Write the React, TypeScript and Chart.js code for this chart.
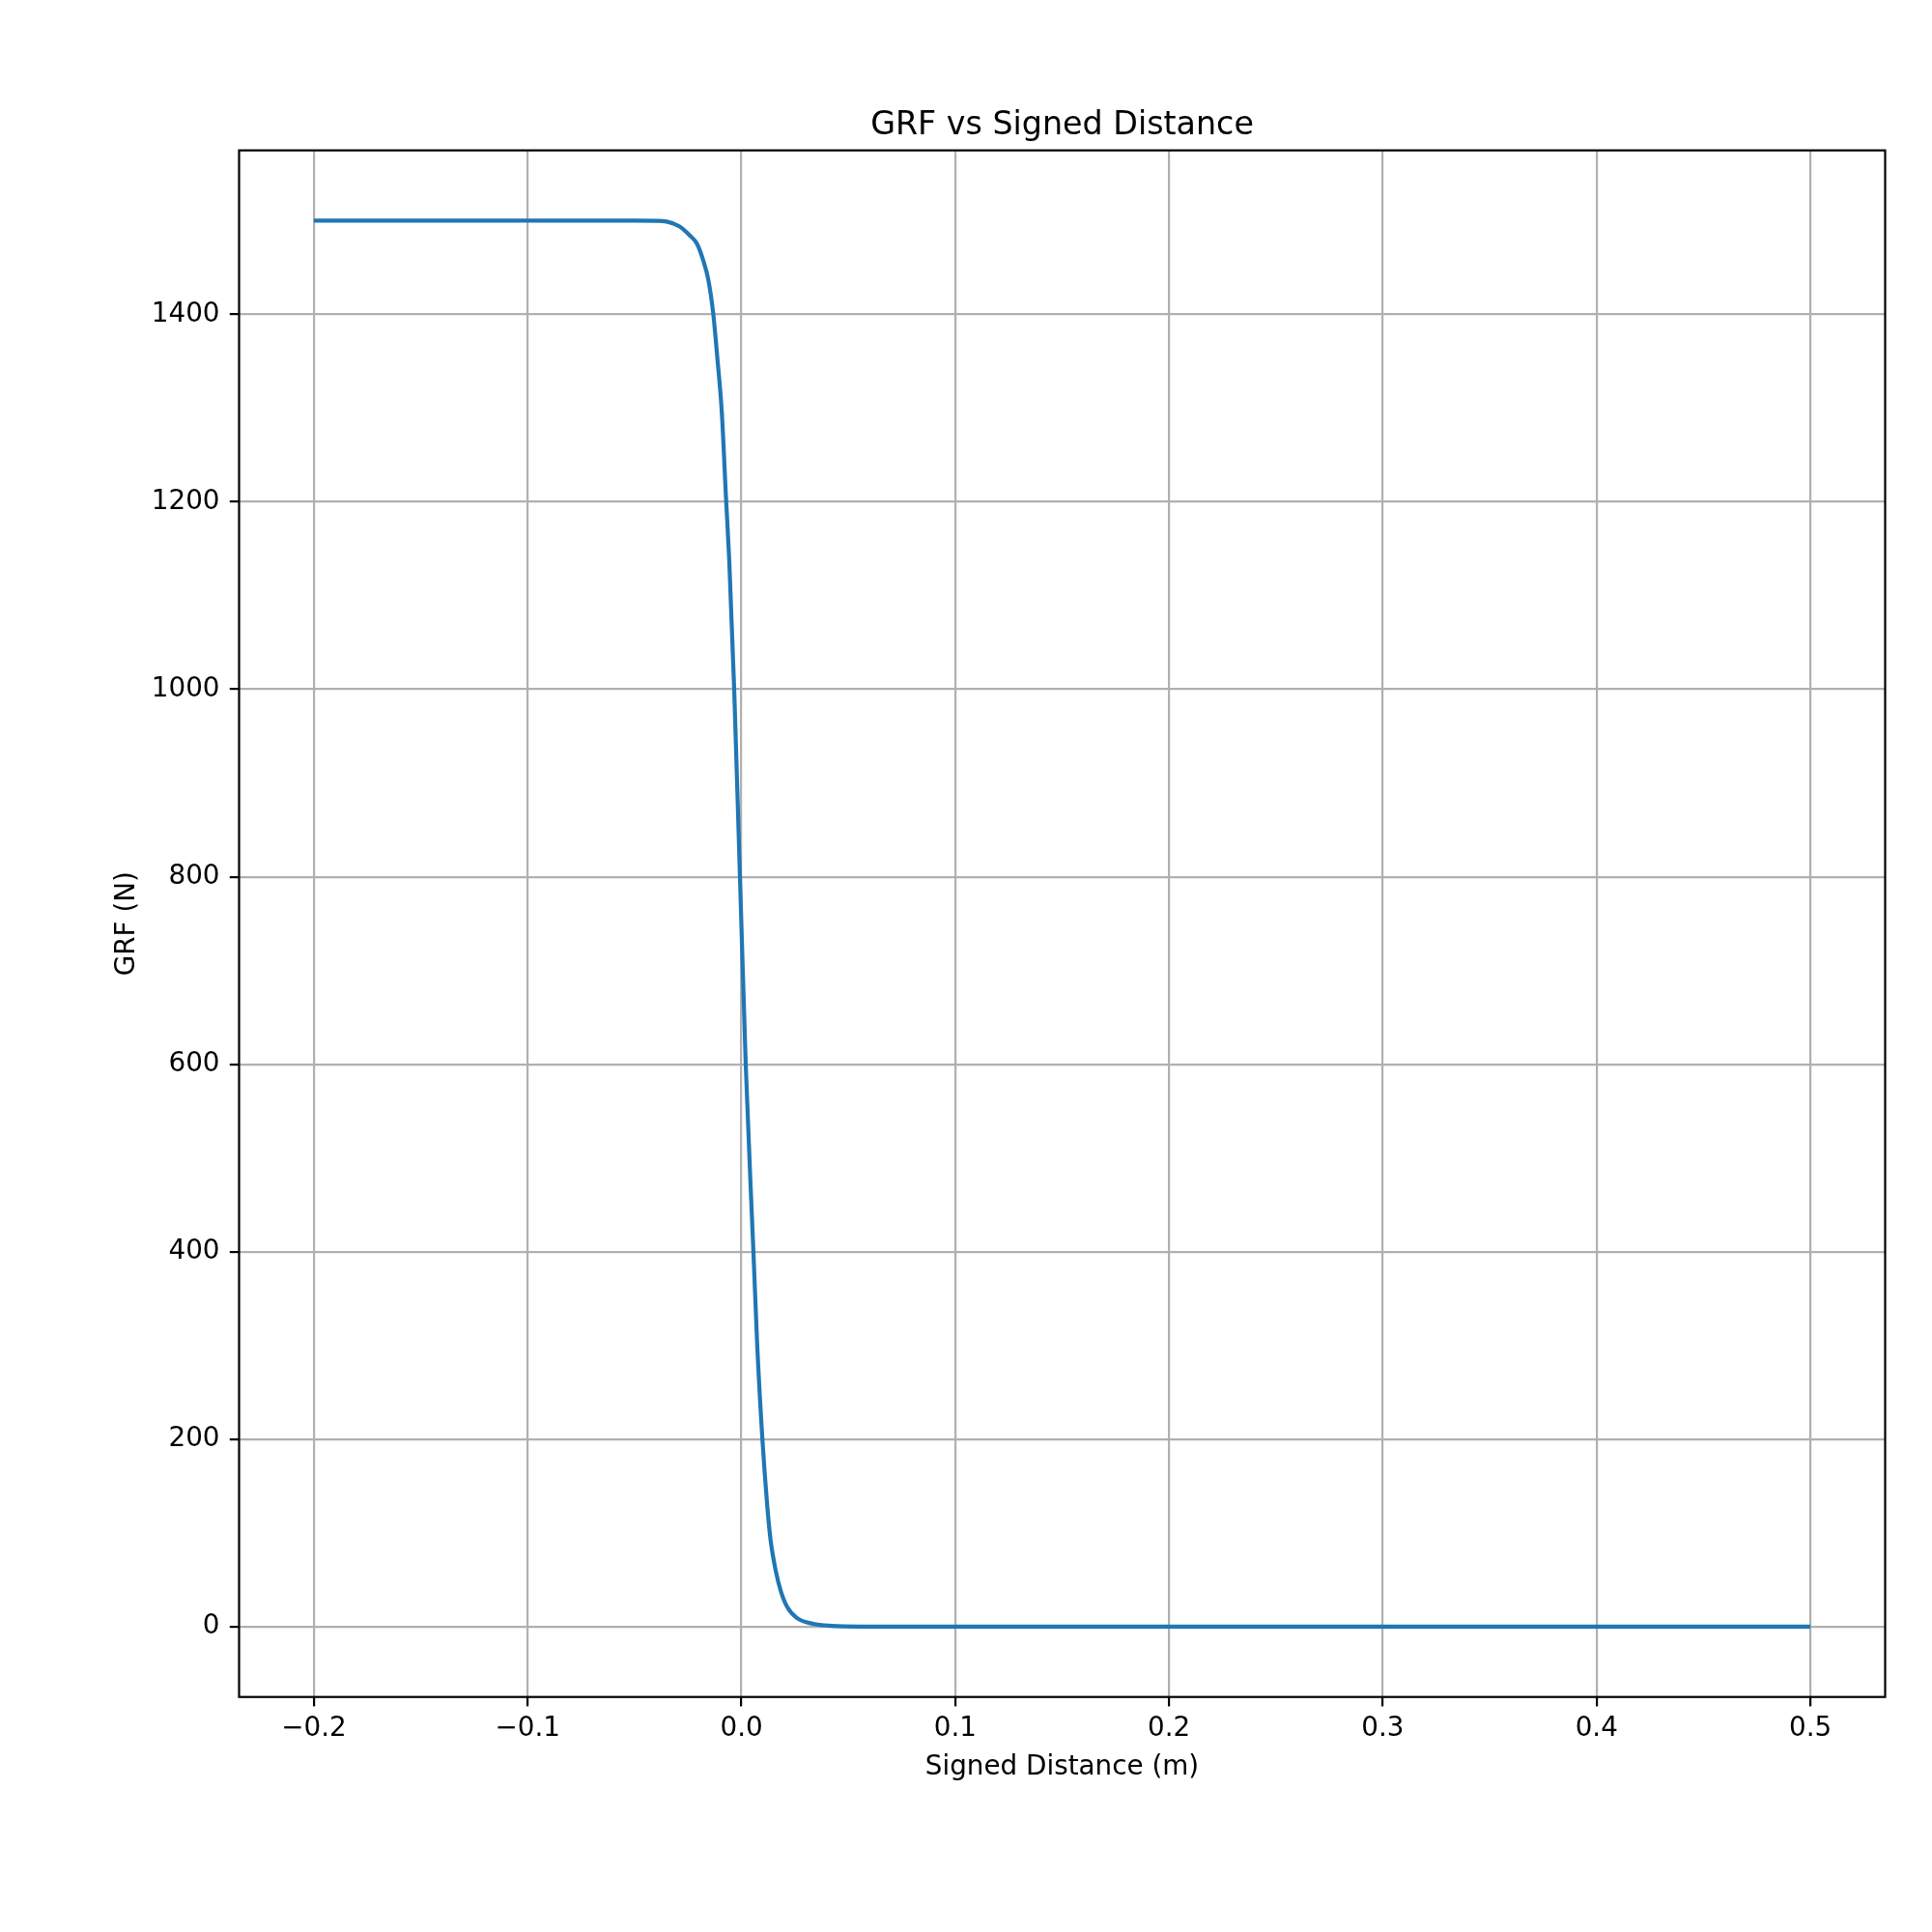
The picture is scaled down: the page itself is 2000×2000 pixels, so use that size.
import React, { useEffect, useRef } from 'react';
import { Chart, registerables } from 'chart.js';

Chart.register(...registerables);

// Signed distance (m) samples
const signedDistance = [
  -0.2, -0.1, -0.05, -0.04, -0.035, -0.0291, -0.0245, -0.0207, -0.0178, -0.0155,
  -0.0132, -0.0113, -0.0092, -0.0072, -0.0057, -0.0034, -0.0007, 0.002, 0.0049,
  0.0056, 0.0074, 0.0098, 0.0121, 0.0136, 0.0161, 0.0184, 0.0214, 0.0259, 0.0335,
  0.0425, 0.055, 0.1, 0.2, 0.3, 0.4, 0.5,
];
// Ground reaction force (N) at those distances
const grf = [
  1500, 1500, 1500, 1499.8, 1499, 1494, 1485, 1475, 1457, 1437,
  1401, 1354, 1296, 1203, 1137, 1000, 800, 600, 437,
  400, 299, 200, 128, 93, 59, 38, 21, 9.3, 3,
  0.8, 0.1, 0, 0, 0, 0, 0,
];

const xTicks = [-0.2, -0.1, 0, 0.1, 0.2, 0.3, 0.4, 0.5];
const yTicks = [0, 200, 400, 600, 800, 1000, 1200, 1400];
const xLimits = [-0.235, 0.535];
const yLimits = [-75, 1575];

const chartTitle = 'GRF vs Signed Distance';
const xTitle = 'Signed Distance (m)';
const yTitle = 'GRF (N)';

const FONT = "'DejaVu Sans', 'Liberation Sans', sans-serif";

const framePlugin = {
  id: 'frame',
  afterDatasetsDraw(chart: any) {
    const { ctx, chartArea: a } = chart;
    ctx.save();
    ctx.strokeStyle = '#000000';
    ctx.lineWidth = 2.2;
    ctx.strokeRect(a.left, a.top, a.right - a.left, a.bottom - a.top);
    ctx.restore();
  },
};

const fmtX = (v: number) => (v < 0 ? '\u2212' : '') + Math.abs(v).toFixed(1);

export default function App() {
  const ref = useRef<HTMLCanvasElement | null>(null);

  useEffect(() => {
    if (!ref.current) return;
    const points = signedDistance.map((x, i) => ({ x, y: grf[i] }));
    const gridCommon = {
      color: '#b0b0b0',
      lineWidth: 2.2,
      tickColor: '#000000',
      tickWidth: 2.2,
      tickLength: 9.7,
      drawOnChartArea: true,
      drawTicks: true,
    };
    const chart = new Chart(ref.current, {
      type: 'line',
      data: {
        datasets: [
          {
            data: points,
            borderColor: '#1f77b4',
            backgroundColor: '#1f77b4',
            borderWidth: 4.2,
            pointRadius: 0,
            fill: false,
            cubicInterpolationMode: 'monotone',
          },
        ],
      },
      options: {
        responsive: false,
        animation: false,
        devicePixelRatio: 1,
        layout: { padding: { left: 0, right: 48.5, top: 0, bottom: 0 } },
        plugins: {
          legend: { display: false },
          tooltip: { enabled: false },
          title: {
            display: true,
            text: chartTitle,
            fullSize: false,
            color: '#000000',
            font: { family: FONT, size: 33.3, weight: 'normal' },
            padding: { top: 110, bottom: 5.7 },
          },
        },
        scales: {
          x: {
            type: 'linear',
            min: xLimits[0],
            max: xLimits[1],
            afterBuildTicks: (scale: any) => {
              scale.ticks = xTicks.map((v) => ({ value: v }));
            },
            afterFit: (scale: any) => {
              scale.height = 243.3;
            },
            grid: gridCommon,
            border: { display: false },
            ticks: {
              color: '#000000',
              font: { family: FONT, size: 27.8 },
              padding: 7,
              maxRotation: 0,
              autoSkip: false,
              callback: (v: any) => fmtX(Number(v)),
            },
            title: {
              display: true,
              text: xTitle,
              color: '#000000',
              font: { family: FONT, size: 27.8 },
              padding: { top: 0, bottom: 153.6 },
            },
          },
          y: {
            type: 'linear',
            min: yLimits[0],
            max: yLimits[1],
            afterBuildTicks: (scale: any) => {
              scale.ticks = yTicks.map((v) => ({ value: v }));
            },
            afterFit: (scale: any) => {
              scale.width = 247.5;
            },
            grid: gridCommon,
            border: { display: false },
            ticks: {
              color: '#000000',
              font: { family: FONT, size: 27.8 },
              padding: 10.3,
              autoSkip: false,
              callback: (v: any) => String(Number(v)),
            },
            title: {
              display: true,
              text: yTitle,
              color: '#000000',
              font: { family: FONT, size: 27.8 },
              padding: { top: 115, bottom: 0 },
            },
          },
        },
      } as any,
      plugins: [framePlugin],
    });
    return () => chart.destroy();
  }, []);

  return (
    <div style={{ position: 'absolute', left: 0, top: 0, width: 2000, height: 2000, background: '#ffffff' }}>
      <canvas ref={ref} width={2000} height={2000} style={{ width: 2000, height: 2000, display: 'block' }} />
    </div>
  );
}
